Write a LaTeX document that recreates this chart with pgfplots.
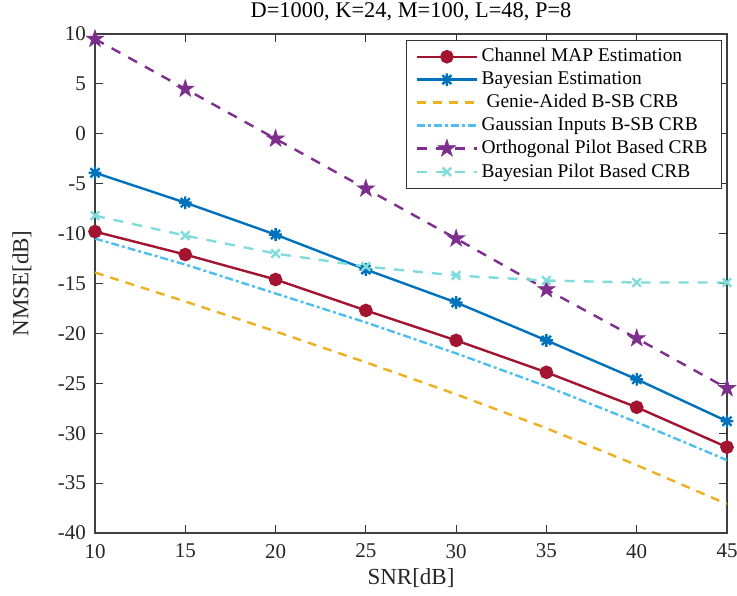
\documentclass[border=0pt]{standalone}
\usepackage{pgfplots}
\pgfplotsset{compat=1.18}
\usepackage{fontspec}
\setmainfont{Liberation Serif}
\definecolor{cRed}{rgb}{0.635,0.078,0.184}
\definecolor{cBlue}{rgb}{0,0.447,0.741}
\definecolor{cYel}{rgb}{0.929,0.694,0.125}
\definecolor{cLB}{rgb}{0.302,0.745,0.933}
\definecolor{cPur}{rgb}{0.494,0.184,0.556}
\definecolor{cCy}{rgb}{0.50,0.86,0.86}
\pgfdeclareplotmark{pentastar}{%
  \pgfpathmoveto{\pgfqpointpolar{90}{\pgfplotmarksize}}%
  \pgfpathlineto{\pgfqpointpolar{126}{0.382\pgfplotmarksize}}%
  \pgfpathlineto{\pgfqpointpolar{162}{\pgfplotmarksize}}%
  \pgfpathlineto{\pgfqpointpolar{198}{0.382\pgfplotmarksize}}%
  \pgfpathlineto{\pgfqpointpolar{234}{\pgfplotmarksize}}%
  \pgfpathlineto{\pgfqpointpolar{270}{0.382\pgfplotmarksize}}%
  \pgfpathlineto{\pgfqpointpolar{306}{\pgfplotmarksize}}%
  \pgfpathlineto{\pgfqpointpolar{342}{0.382\pgfplotmarksize}}%
  \pgfpathlineto{\pgfqpointpolar{18}{\pgfplotmarksize}}%
  \pgfpathlineto{\pgfqpointpolar{54}{0.382\pgfplotmarksize}}%
  \pgfpathclose
  \pgfusepathqfillstroke}
\pgfdeclareplotmark{astr8}{%
  \pgfpathmoveto{\pgfqpoint{-\pgfplotmarksize}{0pt}}\pgfpathlineto{\pgfqpoint{\pgfplotmarksize}{0pt}}%
  \pgfpathmoveto{\pgfqpoint{0pt}{-\pgfplotmarksize}}\pgfpathlineto{\pgfqpoint{0pt}{\pgfplotmarksize}}%
  \pgfpathmoveto{\pgfqpoint{-0.707\pgfplotmarksize}{-0.707\pgfplotmarksize}}\pgfpathlineto{\pgfqpoint{0.707\pgfplotmarksize}{0.707\pgfplotmarksize}}%
  \pgfpathmoveto{\pgfqpoint{-0.707\pgfplotmarksize}{0.707\pgfplotmarksize}}\pgfpathlineto{\pgfqpoint{0.707\pgfplotmarksize}{-0.707\pgfplotmarksize}}%
  \pgfusepathqstroke}
\begin{document}
\begin{tikzpicture}
\begin{axis}[
  name=ax,
  scale only axis,
  width=316pt, height=249.5pt,
  xmin=10, xmax=45, ymin=-40, ymax=10,
  xtick={10,15,...,45}, ytick={-40,-35,...,10},
  tick align=inside,
  major tick length=4pt,
  axis line style={black!75, line width=0.6pt},
  tick style={black!80, line width=0.5pt},
  every tick label/.append style={font=\fontsize{10.5}{12}\selectfont, text=black!85},
  yticklabel style={xshift=-1pt},
  xticklabel style={yshift=-2pt},
  /pgf/number format/assume math mode=true,
  xlabel={SNR[dB]}, ylabel={NMSE[dB]},
  every axis x label/.style={at={(axis description cs:0.5,0)}, anchor=center, yshift=-22.5pt, font=\fontsize{11.5}{13}\selectfont, text=black!85},
  every axis y label/.style={at={(axis description cs:0,0.5)}, anchor=center, rotate=90, yshift=36.5pt, font=\fontsize{11.5}{13}\selectfont, text=black!85},
  title={D=1000, K=24, M=100, L=48, P=8},
  every axis title/.style={at={(axis description cs:0.5,1)}, anchor=center, yshift=11pt, font=\fontsize{11.2}{13}\selectfont},
  legend cell align=left,
  legend style={at={(axis description cs:1,1)}, xshift=-2.5pt, yshift=-3pt, anchor=north east, font=\fontsize{9.7}{11}\selectfont, draw=black!80, line width=0.5pt, row sep=-0.6pt, inner ysep=2pt, inner xsep=5pt},
  legend image code/.code={\draw[mark repeat=2,mark phase=2] plot coordinates {(0cm,0cm) (0.52cm,0cm) (1.04cm,0cm)};},
]
\addplot[cRed, line width=1.2pt, mark=*, mark size=2.8pt] coordinates {
(10,-9.8) (15,-12.1) (20,-14.6) (25,-17.7) (30,-20.7) (35,-23.9) (40,-27.4) (45,-31.4)};
\addlegendentry{Channel MAP Estimation}
\addplot[cBlue, line width=1.2pt, mark=astr8, mark size=3.2pt, mark options={line width=1.2pt}] coordinates {
(10,-3.9) (15,-6.9) (20,-10.1) (25,-13.6) (30,-16.9) (35,-20.7) (40,-24.6) (45,-28.8)};
\addlegendentry{Bayesian Estimation}
\addplot[cYel, line width=1.2pt, dash pattern=on 4.5pt off 3.5pt] coordinates {
(10,-13.9) (15,-16.8) (20,-19.8) (25,-22.9) (30,-26.1) (35,-29.5) (40,-33.2) (45,-37.1)};
\addlegendentry{\ Genie-Aided B-SB CRB}
\addplot[cLB, line width=1.2pt, dash pattern=on 4pt off 1.5pt on 1.5pt off 1.5pt] coordinates {
(10,-10.5) (15,-13.1) (20,-16.0) (25,-18.9) (30,-22.0) (35,-25.3) (40,-28.9) (45,-32.7)};
\addlegendentry{Gaussian Inputs B-SB CRB}
\addplot[cPur, line width=1.2pt, dash pattern=on 5pt off 4.5pt, mark=pentastar, mark size=4.6pt, mark options={solid, fill=cPur, line width=0.3pt}] coordinates {
(10,9.5) (15,4.5) (20,-0.5) (25,-5.5) (30,-10.5) (35,-15.6) (40,-20.5) (45,-25.5)};
\addlegendentry{Orthogonal Pilot Based CRB}
\addplot[cCy, line width=1.2pt, dash pattern=on 5pt off 4.5pt, mark=x, mark size=3pt, mark options={solid, line width=1.2pt}] coordinates {
(10,-8.2) (15,-10.2) (20,-12.0) (25,-13.3) (30,-14.2) (35,-14.7) (40,-14.9) (45,-14.9)};
\addlegendentry{Bayesian Pilot Based CRB}
\end{axis}
\pgfresetboundingbox
\path ([xshift=-47.5pt,yshift=-31pt]ax.south west) rectangle ([xshift=5pt,yshift=17pt]ax.north east);
\end{tikzpicture}
\end{document}
